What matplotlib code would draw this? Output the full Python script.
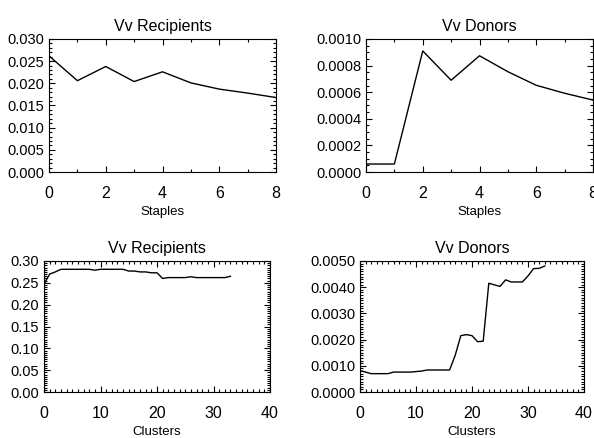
import matplotlib
matplotlib.use("Agg")
import matplotlib.pyplot as plt
from matplotlib.ticker import MultipleLocator, FormatStrFormatter

plt.rcParams["font.family"] = ["Liberation Sans", "DejaVu Sans"]

# --- data ---
staples = [0, 1, 2, 3, 4, 5, 6, 7, 8]
staples_recipients = [0.0262, 0.0206, 0.0238, 0.0204, 0.0226, 0.0201, 0.0187, 0.0178, 0.0168]
staples_donors = [0.00006, 0.00006, 0.00091, 0.00069, 0.000874, 0.000754, 0.000652, 0.000592, 0.000541]

clusters = list(range(34))
clusters_recipients = [0.247, 0.270, 0.275, 0.281, 0.281, 0.281, 0.281, 0.281, 0.281, 0.279,
                       0.281, 0.281, 0.281, 0.281, 0.281, 0.277, 0.277, 0.275, 0.275, 0.273,
                       0.273, 0.260, 0.262, 0.262, 0.262, 0.262, 0.264, 0.262, 0.262, 0.262,
                       0.262, 0.262, 0.262, 0.265]
clusters_donors = [0.00082, 0.00076, 0.00070, 0.00070, 0.00070, 0.00070, 0.00076, 0.00076, 0.00076, 0.00076,
                   0.00078, 0.00080, 0.00084, 0.00084, 0.00084, 0.00084, 0.00084, 0.00140, 0.00215, 0.00219,
                   0.00215, 0.00192, 0.00194, 0.00415, 0.00409, 0.00403, 0.00428, 0.00420, 0.00420, 0.00420,
                   0.00443, 0.00471, 0.00472, 0.00481]


def draw_panel(rect, x, y, title, xlabel, xmax, xmajor, ymax, ymajor, yminor, yfmt):
    ax = fig.add_axes(rect)
    ax.plot(x, y, color="black", lw=1.0)
    ax.set_xlim(0, xmax)
    ax.set_ylim(0, ymax)
    ax.xaxis.set_major_locator(MultipleLocator(xmajor))
    ax.xaxis.set_minor_locator(MultipleLocator(1))
    ax.yaxis.set_major_locator(MultipleLocator(ymajor))
    ax.yaxis.set_minor_locator(MultipleLocator(yminor))
    ax.yaxis.set_major_formatter(FormatStrFormatter(yfmt))
    ax.tick_params(which="both", direction="in", top=True, right=True, width=0.8)
    ax.tick_params(which="major", length=4)
    ax.tick_params(which="minor", length=2)
    ax.tick_params(axis="x", pad=10, labelsize=11.5)
    ax.tick_params(axis="y", pad=3.5, labelsize=10.5)
    for s in ax.spines.values():
        s.set_linewidth(0.8)
    ax.set_title(title, fontsize=11.5, pad=6)
    ax.set_xlabel(xlabel, fontsize=9.5, labelpad=4)
    # end labels sit inside the axis span, like the original
    fig.canvas.draw()
    labels = ax.get_yticklabels()
    labels[0].set_va("bottom")
    labels[-1].set_va("top")
    return ax


fig = plt.figure(figsize=(5.94, 4.38), dpi=100)
fig.patch.set_facecolor("white")

draw_panel([49 / 594, 1 - 172 / 438, 227 / 594, 133 / 438], staples, staples_recipients,
           "Vv Recipients", "Staples", 8, 2, 0.030, 0.005, 0.001, "%.3f")
draw_panel([366 / 594, 1 - 172 / 438, 227 / 594, 133 / 438], staples, staples_donors,
           "Vv Donors", "Staples", 8, 2, 0.0010, 0.0002, 0.00005, "%.4f")
draw_panel([44 / 594, 1 - 392 / 438, 226 / 594, 131 / 438], clusters, clusters_recipients,
           "Vv Recipients", "Clusters", 40, 10, 0.30, 0.05, 0.005, "%.2f")
draw_panel([360 / 594, 1 - 392 / 438, 224 / 594, 131 / 438], clusters, clusters_donors,
           "Vv Donors", "Clusters", 40, 10, 0.0050, 0.0010, 0.0001, "%.4f")

fig.savefig("out.png", dpi=100)
